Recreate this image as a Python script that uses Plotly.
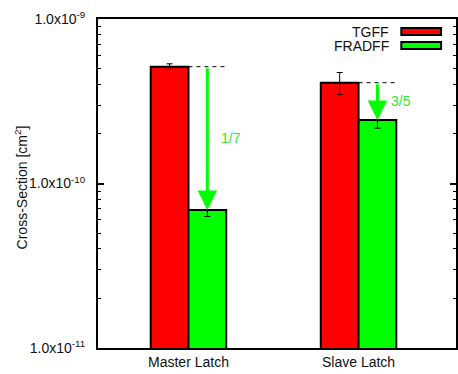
import plotly.graph_objects as go

categories = ["Master Latch", "Slave Latch"]
tgff = [5.13e-10, 4.10e-10]
tgff_err = [0.21e-10, 0.63e-10]
fradff = [6.9e-11, 2.43e-10]
fradff_err = [0.6e-11, 0.26e-10]
ratio_labels = ["1/7", "3/5"]
ytick_vals = [1e-11, 1e-10, 1e-9]
ytick_text = ["1.0x10<sup>-11</sup>", "1.0x10<sup>-10</sup>", "1.0x10<sup>-9</sup>"]

W, H = 458, 374
L, R, T, B = 98, 0, 19, 26
PW, PH = W - L - R, H - T - B

def px(xp):
    return (xp - L) / PW

def py(yp):
    return (H - B - yp) / PH

import math
xs = list(range(len(categories)))
bw = 0.222
FONT = "Liberation Sans, Arial, Helvetica, sans-serif"
RED = "#FF0000"
GREEN = "#00FF00"

fig = go.Figure()
fig.add_trace(go.Bar(
    x=xs, y=tgff, name="TGFF",
    marker=dict(color=RED, line=dict(color="black", width=2)),
    error_y=dict(type="data", array=tgff_err, color="black", thickness=1, width=3),
))
fig.add_trace(go.Bar(
    x=xs, y=fradff, name="FRADFF",
    marker=dict(color=GREEN, line=dict(color="black", width=2)),
    error_y=dict(type="data", array=fradff_err, color="black", thickness=1, width=3),
))

shapes = []
annotations = []
for i, (a, b, lab) in enumerate(zip(tgff, fradff, ratio_labels)):
    # dashed reference line
    shapes.append(dict(type="line", xref="x", yref="y", x0=i, x1=i + bw,
                       y0=a, y1=a, line=dict(color="black", width=1, dash="4px,4px")))
    # arrow
    annotations.append(dict(x=i + bw / 2, y=math.log10(b), ax=i + bw / 2, ay=math.log10(a),
                            xref="x", yref="y", axref="x", ayref="y", text="",
                            showarrow=True, arrowhead=2, arrowsize=1.3, arrowwidth=3,
                            arrowcolor=GREEN, standoff=0, startstandoff=0))
    annotations.append(dict(x=i + 0.18, y=(math.log10(a) + math.log10(b)) / 2,
                            xref="x", yref="y", text=lab, showarrow=False,
                            xanchor="left", yanchor="middle",
                            font=dict(family=FONT, size=14, color="#33e833")))

# legend (custom, text left of key)
for name, col, yc in [("TGFF", RED, 31.5), ("FRADFF", GREEN, 45.5)]:
    annotations.append(dict(x=px(393), y=py(yc), xref="paper", yref="paper", text=name,
                            showarrow=False, xanchor="right", yanchor="middle",
                            font=dict(family=FONT, size=14, color="#111")))
    shapes.append(dict(type="rect", xref="paper", yref="paper",
                       x0=px(403), x1=px(443), y0=py(yc + 3.5), y1=py(yc - 3.5),
                       fillcolor=col, line=dict(color="black", width=2)))

# y-axis title
annotations.append(dict(x=px(21), y=py(187), xref="paper", yref="paper",
                        text="Cross-Section [cm<sup>2</sup>]", textangle=-90,
                        showarrow=False, xanchor="center", yanchor="middle",
                        font=dict(family=FONT, size=14, color="#111")))

minor_vals = [m * 10 ** e for e in (-11, -10) for m in range(2, 10)]

fig.update_layout(
    width=W, height=H,
    margin=dict(l=L, r=R, t=T, b=B, pad=0),
    paper_bgcolor="white", plot_bgcolor="white",
    barmode="group", bargap=1 - 2 * bw, bargroupgap=0,
    showlegend=False,
    shapes=shapes, annotations=annotations,
    font=dict(family=FONT, size=14, color="#111"),
    xaxis=dict(range=[-0.532, 1.573], tickvals=xs, ticktext=categories,
               showline=True, linecolor="black", linewidth=2, mirror=True,
               ticks="", showgrid=False, zeroline=False,
               tickfont=dict(family=FONT, size=14, color="#111")),
    yaxis=dict(type="log", range=[-11, -9], tickvals=ytick_vals, ticktext=ytick_text,
               showline=True, linecolor="black", linewidth=2, mirror="allticks",
               ticks="inside", ticklen=6, tickwidth=2, tickcolor="black",
               minor=dict(tickvals=minor_vals, ticks="inside", ticklen=3,
                          tickwidth=1, tickcolor="black", showgrid=False),
               showgrid=False, zeroline=False, ticklabelstandoff=8,
               tickfont=dict(family=FONT, size=14, color="#111")),
)

fig.write_html("out.html")
